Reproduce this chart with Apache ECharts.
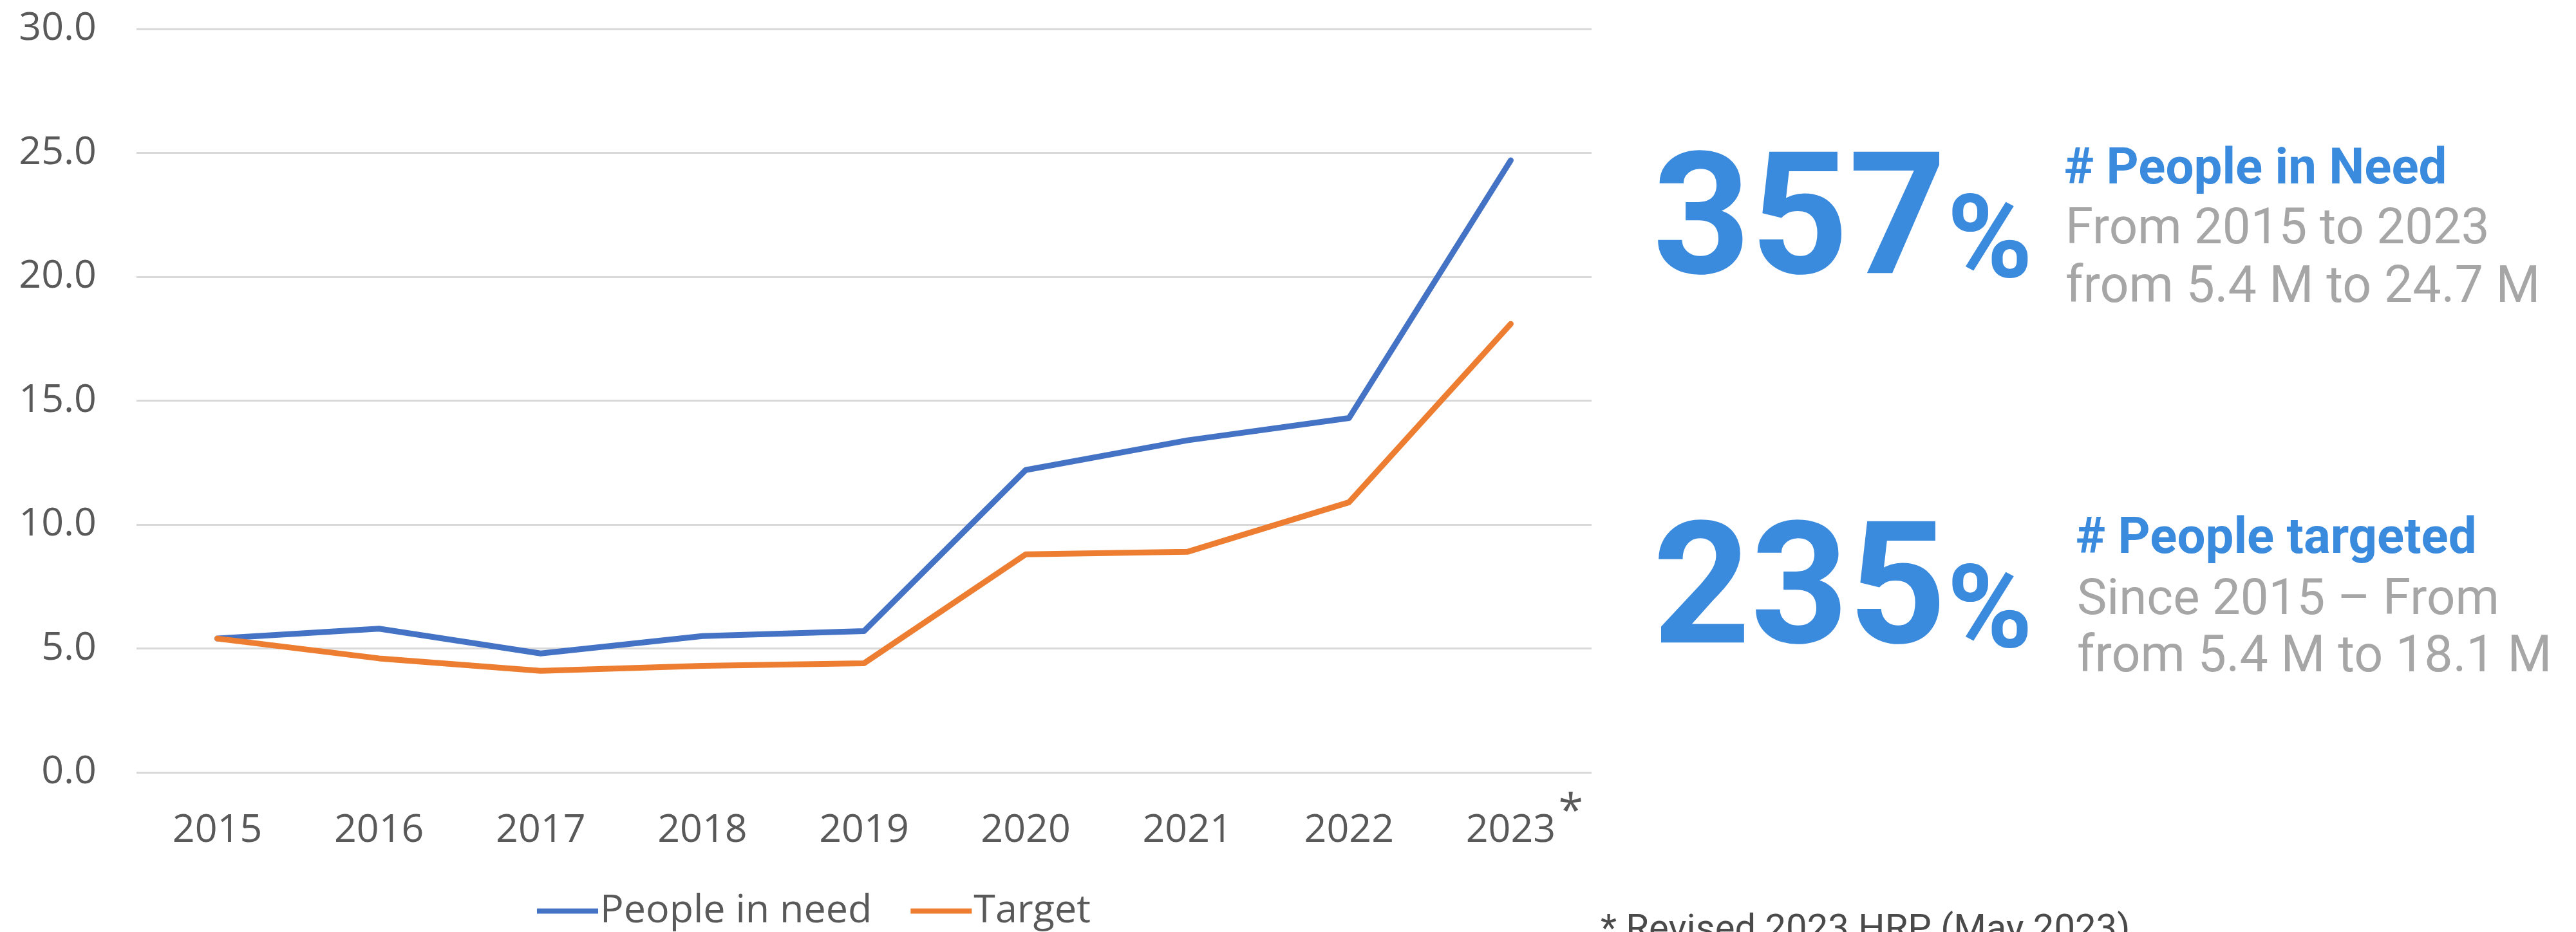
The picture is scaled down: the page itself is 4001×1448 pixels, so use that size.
<!DOCTYPE html>
<html>
<head>
<meta charset="utf-8">
<script src="https://cdn.jsdelivr.net/npm/echarts@6/dist/echarts.min.js"></script>
<style>
html,body{margin:0;padding:0;background:#fff;}
#chart{width:4001px;height:1448px;}
</style>
</head>
<body>
<div id="chart"></div>
<script>
// ---- data ----
const years = ['2015','2016','2017','2018','2019','2020','2021','2022','2023'];
const peopleInNeed = [5.4, 5.8, 4.8, 5.5, 5.7, 12.2, 13.4, 14.3, 24.7];
const target = [5.4, 4.6, 4.1, 4.3, 4.4, 8.8, 8.9, 10.9, 18.1];
const seriesNames = ['People in need', 'Target'];
const yTicks = {min: 0, max: 30, step: 5};

const BLUE_TXT = '#3a8ade';
const GRAY_TXT = '#a6a6a6';
const AXIS_TXT = '#595959';

const chart = echarts.init(document.getElementById('chart'), null, {renderer: 'canvas'});

function sideText(x, y, text, size, weight, color) {
  return {
    type: 'text', x: x, y: y, silent: true,
    style: {
      text: text, fill: color,
      font: weight + ' ' + size + 'px Roboto',
      textAlign: 'left', textVerticalAlign: 'middle'
    }
  };
}

const option = {
  backgroundColor: '#ffffff',
  animation: false,
  color: ['#4472c4', '#ed7d31'],
  grid: {left: 212, right: 4001 - 2472, top: 45, bottom: 1448 - 1200, containLabel: false},
  legend: {
    left: 829, top: 1380,
    icon: 'rect', itemWidth: 95, itemHeight: 8, itemGap: 60,
    textStyle: {fontFamily: 'Open Sans', fontSize: 61, color: AXIS_TXT, padding: [0, 0, 0, -2]},
    data: seriesNames
  },
  xAxis: {
    type: 'category', data: years, boundaryGap: true,
    axisLine: {show: false}, axisTick: {show: false},
    axisLabel: {fontFamily: 'Open Sans', fontSize: 61, color: AXIS_TXT, margin: 60}
  },
  yAxis: {
    type: 'value', min: yTicks.min, max: yTicks.max, interval: yTicks.step,
    axisLine: {show: false}, axisTick: {show: false},
    axisLabel: {fontFamily: 'Open Sans', fontSize: 61, color: AXIS_TXT, margin: 62,
      formatter: v => v.toFixed(1)},
    splitLine: {lineStyle: {color: '#d9d9d9', width: 3}}
  },
  series: [
    {name: seriesNames[0], type: 'line', data: peopleInNeed, symbol: 'none',
     lineStyle: {width: 9, cap: 'round', join: 'round'}, z: 3},
    {name: seriesNames[1], type: 'line', data: target, symbol: 'none',
     lineStyle: {width: 9, cap: 'round', join: 'round'}, z: 4}
  ]
};
chart.setOption(option);

// asterisk next to the last category label, placed relative to the axis
const p = chart.convertToPixel({xAxisIndex: 0, yAxisIndex: 0}, [years.length - 1, 0]);
chart.setOption({
  graphic: [
    {type: 'text', x: p[0] + 74, y: p[1] + 28, silent: true,
     style: {text: '*', fill: AXIS_TXT, font: '70px "Open Sans"', textAlign: 'left', textVerticalAlign: 'top'}},
    sideText(2567, 358, '357', 265, 'bold', BLUE_TXT),
    sideText(3024, 385, '%', 180, 'bold', BLUE_TXT),
    sideText(3206, 265, '# People in Need', 78, 'bold', BLUE_TXT),
    sideText(3208, 358, 'From 2015 to 2023', 78, 'normal', GRAY_TXT),
    sideText(3208, 449, 'from 5.4 M to 24.7 M', 79, 'normal', GRAY_TXT),
    sideText(2567, 932, '235', 265, 'bold', BLUE_TXT),
    sideText(3024, 960, '%', 180, 'bold', BLUE_TXT),
    sideText(3224, 839, '# People targeted', 78, 'bold', BLUE_TXT),
    sideText(3226, 934, 'Since 2015 \u2013 From', 78, 'normal', GRAY_TXT),
    sideText(3226, 1023, 'from 5.4 M to 18.1 M', 79, 'normal', GRAY_TXT),
    {type: 'text', x: 2486, y: 1446, silent: true,
     style: {text: '* Revised 2023 HRP (May 2023)', fill: '#4a4a4a', font: '58px Roboto',
       textAlign: 'left', textVerticalAlign: 'middle'}}
  ]
});
</script>
</body>
</html>
